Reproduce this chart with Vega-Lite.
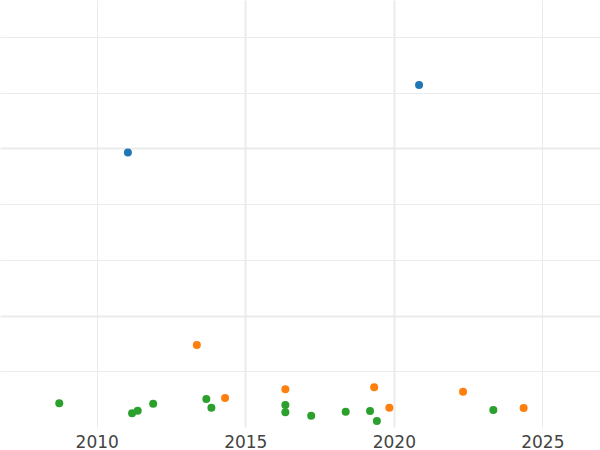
{
  "$schema": "https://vega.github.io/schema/vega-lite/v6.json",
  "width": 600,
  "height": 427,
  "padding": {"left": 0, "top": 0, "right": 0, "bottom": 23},
  "autosize": {"type": "none"},
  "config": {"view": {"stroke": null}, "font": "DejaVu Sans"},
  "data": {
    "values": [
      {"year": 2011.05, "value": 4.93, "group": "A"},
      {"year": 2020.85, "value": 6.14, "group": "A"},
      {"year": 2013.37, "value": 1.472, "group": "B"},
      {"year": 2014.32, "value": 0.521, "group": "B"},
      {"year": 2016.35, "value": 0.677, "group": "B"},
      {"year": 2019.34, "value": 0.713, "group": "B"},
      {"year": 2019.85, "value": 0.347, "group": "B"},
      {"year": 2022.33, "value": 0.634, "group": "B"},
      {"year": 2024.37, "value": 0.341, "group": "B"},
      {"year": 2008.74, "value": 0.425, "group": "C"},
      {"year": 2011.19, "value": 0.246, "group": "C"},
      {"year": 2011.38, "value": 0.293, "group": "C"},
      {"year": 2011.9, "value": 0.418, "group": "C"},
      {"year": 2013.69, "value": 0.503, "group": "C"},
      {"year": 2013.86, "value": 0.347, "group": "C"},
      {"year": 2016.35, "value": 0.395, "group": "C"},
      {"year": 2016.35, "value": 0.264, "group": "C"},
      {"year": 2017.22, "value": 0.203, "group": "C"},
      {"year": 2018.38, "value": 0.275, "group": "C"},
      {"year": 2019.2, "value": 0.287, "group": "C"},
      {"year": 2019.43, "value": 0.108, "group": "C"},
      {"year": 2023.35, "value": 0.305, "group": "C"}
    ]
  },
  "mark": {"type": "circle", "size": 64, "opacity": 1},
  "encoding": {
    "x": {
      "field": "year",
      "type": "quantitative",
      "scale": {"domain": [2006.745, 2026.94], "nice": false, "zero": false},
      "axis": {
        "title": null,
        "values": [2010, 2015, 2020, 2025],
        "format": "d",
        "domain": false,
        "ticks": false,
        "labelPadding": 7,
        "labelFontSize": 17,
        "labelColor": "#444444",
        "labelFont": "DejaVu Sans",
        "gridColor": "#ebebeb",
        "gridWidth": {"condition": {"test": "datum.value === 2015 || datum.value === 2020", "value": 2}, "value": 1}
      }
    },
    "y": {
      "field": "value",
      "type": "quantitative",
      "scale": {"domain": [0, 7.666], "nice": false, "zero": false},
      "axis": {
        "title": null,
        "values": [1, 2, 3, 4, 5, 6, 7],
        "labels": false,
        "domain": false,
        "ticks": false,
        "gridColor": "#ebebeb",
        "gridWidth": {"condition": {"test": "datum.value === 2 || datum.value === 5", "value": 2}, "value": 1}
      }
    },
    "color": {
      "field": "group",
      "type": "nominal",
      "scale": {"domain": ["A", "B", "C"], "range": ["#1f77b4", "#ff7f0e", "#2ca02c"]},
      "legend": null
    }
  }
}
